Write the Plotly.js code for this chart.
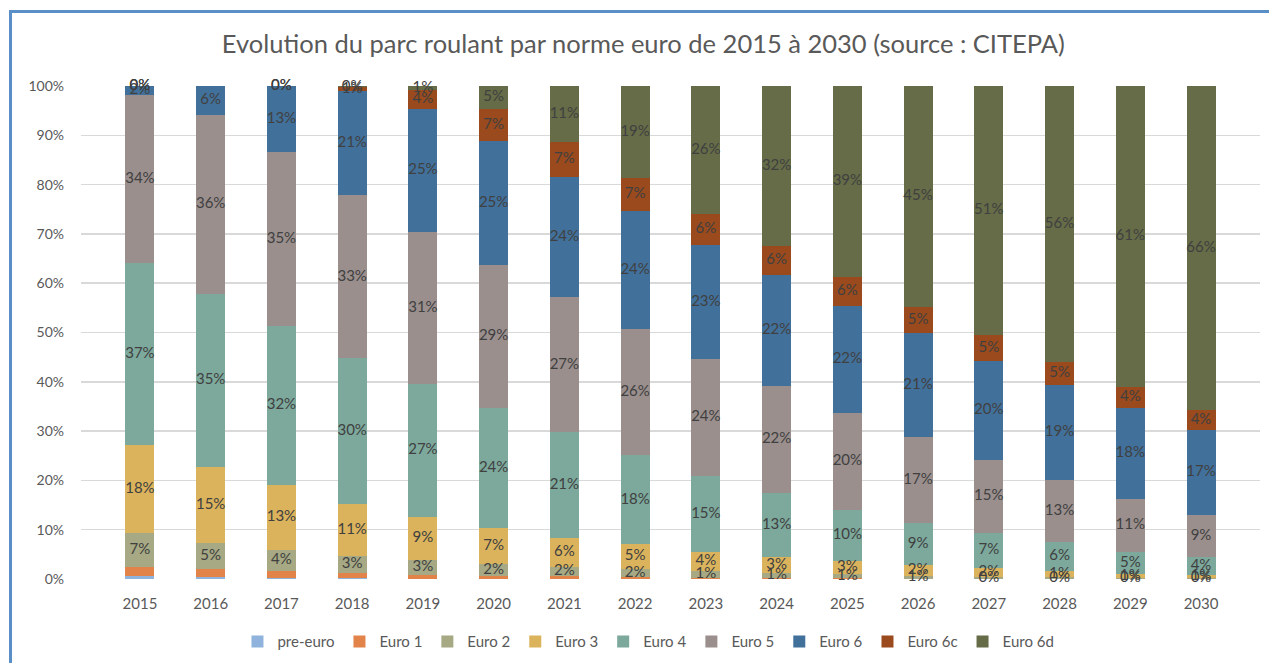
<!DOCTYPE html>
<html>
<head>
<meta charset="utf-8">
<script src="https://cdn.plot.ly/plotly-3.0.1.min.js"></script>
<style>
  html, body { margin:0; padding:0; background:#fff; overflow:hidden; }
  #frame { position:absolute; left:9px; top:10px; width:1400px; height:800px;
           border-left:3px solid #5a8ec6; border-top:3px solid #5a8ec6; }
  #chart { position:absolute; left:0; top:0; width:1269px; height:663px; }
</style>
</head>
<body>
<div id="frame"></div>
<div id="chart"></div>
<script>
const years = ['2015','2016','2017','2018','2019','2020','2021','2022','2023','2024','2025','2026','2027','2028','2029','2030'];
const preEuro = [0.6,0.5,0.3,0.2,0.1,0.1,0.05,0,0,0,0,0,0,0,0,0];
const euro1   = [1.8,1.5,1.3,1.0,0.7,0.6,0.5,0.4,0.3,0.2,0.15,0.1,0.05,0.05,0.05,0.05];
const euro2   = [6.9,5.4,4.3,3.4,3.0,2.3,1.9,1.7,1.3,1.0,0.8,0.6,0.4,0.3,0.2,0.15];
const euro3   = [17.8,15.3,13.2,10.7,8.8,7.3,5.9,4.9,3.9,3.2,2.7,2.1,1.7,1.3,0.7,0.6];
const euro4   = [37.0,35.2,32.3,29.5,27.0,24.4,21.4,18.1,15.4,13.0,10.3,8.6,7.2,5.8,4.6,3.6];
const euro5   = [34.0,36.2,35.2,33.0,30.8,28.9,27.4,25.6,23.7,21.8,19.7,17.4,14.8,12.6,10.7,8.6];
const euro6   = [1.9,5.9,13.4,21.2,25.0,25.2,24.4,23.9,23.1,22.4,21.8,21.0,20.1,19.4,18.4,17.3];
const euro6c  = [0,0,0,0.7,3.7,6.6,7.0,6.8,6.4,6.0,5.8,5.4,5.2,4.6,4.3,4.0];
const euro6d  = [0,0,0,0.3,0.9,4.6,11.45,18.6,25.9,32.4,38.75,44.8,50.55,55.95,61.05,65.7];

const seriesNames = ['pre-euro','Euro 1','Euro 2','Euro 3','Euro 4','Euro 5','Euro 6','Euro 6c','Euro 6d'];
const seriesData = [preEuro, euro1, euro2, euro3, euro4, euro5, euro6, euro6c, euro6d];
const seriesColors = ['#8fb3dc','#e2834a','#a6a983','#dbb35c','#7ca99c','#9a8f8d','#41709b','#9a4a1c','#656c47'];
const labelled = [false,false,true,true,true,true,true,true,true];

const FONT = 'Lato, "Open Sans", sans-serif';
const traces = [];
seriesNames.forEach((n,i) => {
  traces.push({
    type:'bar', name:n, x:years, y:seriesData[i],
    marker:{color:seriesColors[i], line:{width:0}},
    hoverinfo:'skip'
  });
});
// data labels at segment centres
const cum = years.map(() => 0);
seriesData.forEach((d,i) => {
  const ys = [], txt = [];
  d.forEach((v,j) => { ys.push(cum[j] + v/2); txt.push(Math.round(v) + '%'); cum[j] += v; });
  if (labelled[i]) {
    traces.push({
      type:'scatter', mode:'text', x:years, y:ys, text:txt,
      textposition:'middle center',
      textfont:{family:FONT, size:15, color:'#404040'},
      showlegend:false, hoverinfo:'skip', cliponaxis:false
    });
  }
});

const layout = {
  width:1269, height:663,
  paper_bgcolor:'rgba(0,0,0,0)', plot_bgcolor:'rgba(0,0,0,0)',
  margin:{l:81, r:9, t:86, b:84},
  barmode:'stack', bargap:0.59,
  showlegend:true,
  title:{text:'Evolution du parc roulant par norme euro de 2015 à 2030 (source : CITEPA)',
         font:{family:FONT, size:25.5, color:'#595959'},
         xref:'container', x:0.507, xanchor:'center', yref:'container', y:0.934, yanchor:'middle'},
  xaxis:{type:'category', showgrid:false, zeroline:false, showline:false,
         ticks:'', tickfont:{family:FONT, size:15, color:'#595959'}, ticklabelstandoff:14},
  yaxis:{range:[0,100], dtick:10, ticksuffix:'%', showgrid:true, gridcolor:'#d9d9d9', gridwidth:1.5,
         zeroline:false, showline:false, ticks:'',
         tickfont:{family:FONT, size:14, color:'#595959'}, ticklabelstandoff:16},
  legend:{orientation:'h', traceorder:'normal', xref:'container', yref:'container',
          x:0.511, xanchor:'center', y:0.032, yanchor:'middle',
          font:{family:FONT, size:15, color:'#595959'}, itemwidth:30}
};
Plotly.newPlot('chart', traces, layout, {displayModeBar:false, staticPlot:true});
</script>
</body>
</html>
